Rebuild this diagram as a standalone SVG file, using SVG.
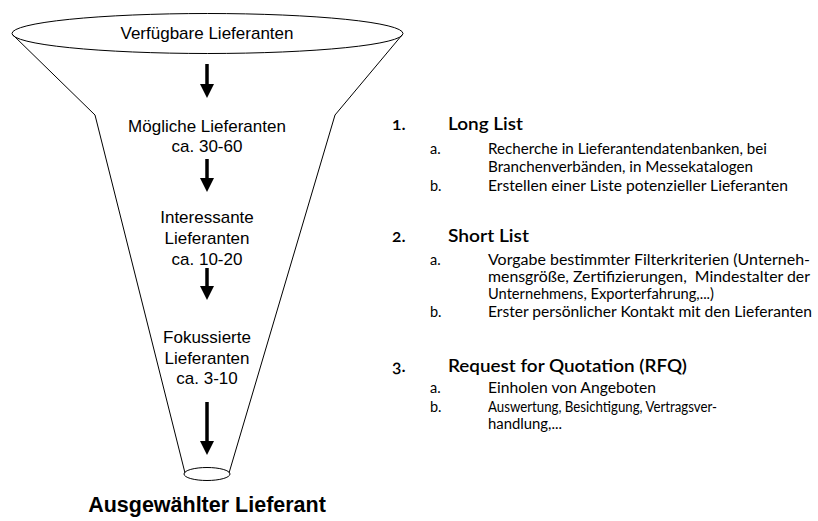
<svg xmlns="http://www.w3.org/2000/svg" width="818" height="521" viewBox="0 0 818 521">
<style>
.f{font-family:Arial,"Liberation Sans",sans-serif;font-size:17px;fill:#000;text-anchor:middle}
.big{font-family:Arial,"Liberation Sans",sans-serif;font-size:21.5px;font-weight:bold;fill:#000;text-anchor:middle}
.h{font-family:Lato,"Open Sans",sans-serif;font-size:17.5px;font-weight:600;fill:#000;font-variant-numeric:oldstyle-nums;font-feature-settings:"onum"}
.t{font-family:Lato,"Open Sans",sans-serif;font-size:14.5px;fill:#000}
.ln{fill:none;stroke:#000;stroke-width:1}
.ar{stroke:#000;stroke-width:3.5;fill:none}
</style>
<defs>
<marker id="ah" markerWidth="4" markerHeight="4" refX="0" refY="2" orient="auto" markerUnits="strokeWidth">
<path d="M0,0 L0,4 L4,2 z" fill="#000"/>
</marker>
</defs>
<g id="funnel">
<path class="ln" d="M13,35 L95,115 L185,473"/>
<path class="ln" d="M402,35 L335,115 L229,473"/>
<ellipse class="ln" cx="207.5" cy="33.5" rx="195.5" ry="20" fill="#fff"/>
<ellipse class="ln" cx="207" cy="474" rx="23" ry="6.5" fill="#fff"/>
</g>
<g id="connectors">
<line class="ar" x1="207" y1="64" x2="207" y2="84" marker-end="url(#ah)"/>
<line class="ar" x1="207" y1="159" x2="207" y2="178" marker-end="url(#ah)"/>
<line class="ar" x1="207" y1="268" x2="207" y2="286" marker-end="url(#ah)"/>
<line class="ar" x1="207" y1="402" x2="207" y2="441" marker-end="url(#ah)"/>
</g>
<g id="n1"><text class="f" x="207" y="39">Verfügbare Lieferanten</text></g>
<g id="n2"><text class="f" x="207" y="132">Mögliche Lieferanten</text><text class="f" x="207" y="152">ca. 30-60</text></g>
<g id="n3"><text class="f" x="207" y="223">Interessante</text><text class="f" x="207" y="244">Lieferanten</text><text class="f" x="207" y="265">ca. 10-20</text></g>
<g id="n4"><text class="f" x="207" y="343">Fokussierte</text><text class="f" x="207" y="364">Lieferanten</text><text class="f" x="207" y="384">ca. 3-10</text></g>
<g id="n5"><text class="big" x="207" y="512">Ausgewählter Lieferant</text></g>
<g id="list">
<text class="h" x="392" y="130">1.</text>
<text class="h" x="448" y="130" textLength="75" lengthAdjust="spacingAndGlyphs">Long List</text>
<text class="t" x="430" y="154">a.</text>
<text class="t" x="488" y="154" textLength="279" lengthAdjust="spacingAndGlyphs">Recherche in Lieferantendatenbanken, bei</text>
<text class="t" x="488" y="172" textLength="265" lengthAdjust="spacingAndGlyphs">Branchenverbänden, in Messekatalogen</text>
<text class="t" x="430" y="191">b.</text>
<text class="t" x="488" y="191" textLength="300" lengthAdjust="spacingAndGlyphs">Erstellen einer Liste potenzieller Lieferanten</text>
<text class="h" x="392" y="242">2.</text>
<text class="h" x="448" y="242" textLength="81" lengthAdjust="spacingAndGlyphs">Short List</text>
<text class="t" x="430" y="265">a.</text>
<text class="t" x="488" y="265" textLength="322" lengthAdjust="spacingAndGlyphs">Vorgabe bestimmter Filterkriterien (Unterneh-</text>
<text class="t" x="488" y="282" textLength="322" lengthAdjust="spacingAndGlyphs" xml:space="preserve">mensgröße, Zertifizierungen,  Mindestalter der</text>
<text class="t" x="488" y="299" textLength="226" lengthAdjust="spacingAndGlyphs">Unternehmens, Exporterfahrung,...)</text>
<text class="t" x="430" y="317">b.</text>
<text class="t" x="488" y="317" textLength="324" lengthAdjust="spacingAndGlyphs">Erster persönlicher Kontakt mit den Lieferanten</text>
<text class="h" x="392" y="372">3.</text>
<text class="h" x="448" y="372" textLength="239" lengthAdjust="spacingAndGlyphs">Request for Quotation (RFQ)</text>
<text class="t" x="430" y="393">a.</text>
<text class="t" x="488" y="393" textLength="168" lengthAdjust="spacingAndGlyphs">Einholen von Angeboten</text>
<text class="t" x="430" y="412">b.</text>
<text class="t" x="488" y="412" textLength="229" lengthAdjust="spacingAndGlyphs">Auswertung, Besichtigung, Vertragsver-</text>
<text class="t" x="488" y="429" textLength="74" lengthAdjust="spacingAndGlyphs">handlung,...</text>
</g>
</svg>
